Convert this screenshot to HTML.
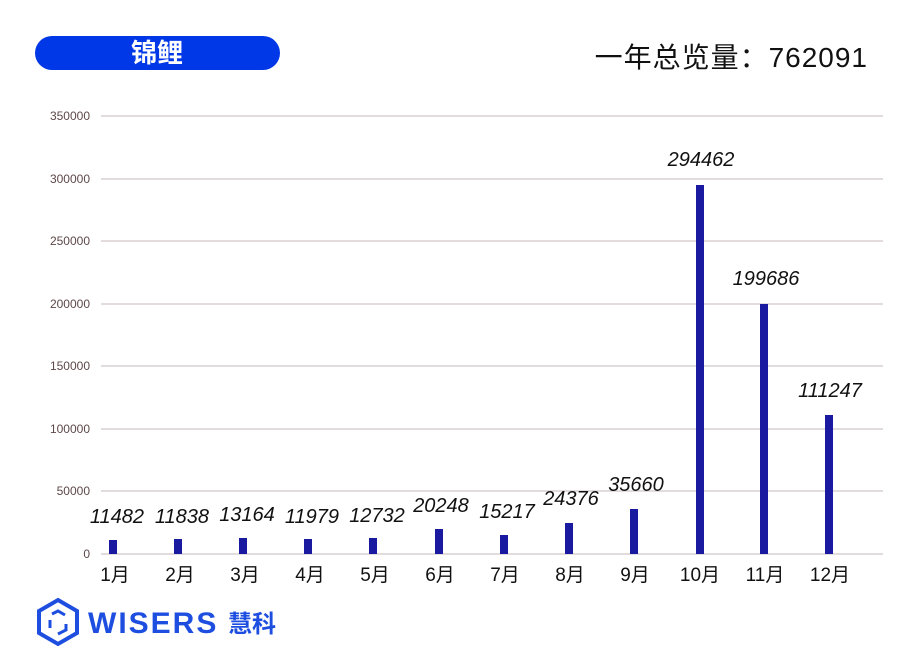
<!DOCTYPE html>
<html><head><meta charset="utf-8"><style>
html,body{margin:0;padding:0;background:#fff;width:921px;height:661px;overflow:hidden}
</style></head><body>
<svg width="921" height="661" viewBox="0 0 921 661" xmlns="http://www.w3.org/2000/svg" font-family="Liberation Sans, Noto Sans CJK SC, sans-serif">
<rect x="35" y="36" width="245" height="34" rx="17" fill="#0037e6"/>
<text x="157" y="62" text-anchor="middle" fill="#fff" font-size="26" font-weight="bold" font-family="Liberation Sans, Noto Sans CJK SC, sans-serif">锦鲤</text>
<text x="868" y="67" text-anchor="end" fill="#111" font-size="28" letter-spacing="1" font-family="Liberation Sans, Noto Sans CJK SC, sans-serif">一年总览量：762091</text>
<g stroke="#e2dcdc" stroke-width="2">
<line x1="101" x2="883" y1="116" y2="116"/><line x1="101" x2="883" y1="179" y2="179"/>
<line x1="101" x2="883" y1="241" y2="241"/><line x1="101" x2="883" y1="304" y2="304"/>
<line x1="101" x2="883" y1="366" y2="366"/><line x1="101" x2="883" y1="429" y2="429"/>
<line x1="101" x2="883" y1="491" y2="491"/><line x1="101" x2="883" y1="554" y2="554"/>
</g>
<g fill="#5e4848" font-size="12" text-anchor="end">
<text x="90" y="120">350000</text><text x="90" y="183">300000</text>
<text x="90" y="245">250000</text><text x="90" y="308">200000</text>
<text x="90" y="370">150000</text><text x="90" y="433">100000</text>
<text x="90" y="495">50000</text><text x="90" y="558">0</text>
</g>
<g fill="#1a1aa0">
<rect x="109" y="540" width="8" height="14"/>
<rect x="174" y="539" width="8" height="15"/>
<rect x="239" y="538" width="8" height="16"/>
<rect x="304" y="539" width="8" height="15"/>
<rect x="369" y="538" width="8" height="16"/>
<rect x="435" y="529" width="8" height="25"/>
<rect x="500" y="535" width="8" height="19"/>
<rect x="565" y="523" width="8" height="31"/>
<rect x="630" y="509" width="8" height="45"/>
<rect x="696" y="185" width="8" height="369"/>
<rect x="760" y="304" width="8" height="250"/>
<rect x="825" y="415" width="8" height="139"/>
</g>
<g fill="#111" font-size="20" font-style="italic" text-anchor="middle">
<text x="117" y="523">11482</text><text x="182" y="523">11838</text>
<text x="247" y="521">13164</text><text x="312" y="523">11979</text>
<text x="377" y="522">12732</text><text x="441" y="512">20248</text>
<text x="507" y="518">15217</text><text x="571" y="505">24376</text>
<text x="636" y="491">35660</text><text x="701" y="166">294462</text>
<text x="766" y="285">199686</text><text x="830" y="397">111247</text>
</g>
<g fill="#111" font-size="19" text-anchor="middle" font-family="Liberation Sans, Noto Sans CJK SC, sans-serif">
<text x="115" y="581">1月</text><text x="180" y="581">2月</text><text x="245" y="581">3月</text>
<text x="310" y="581">4月</text><text x="375" y="581">5月</text><text x="440" y="581">6月</text>
<text x="505" y="581">7月</text><text x="570" y="581">8月</text><text x="635" y="581">9月</text>
<text x="700" y="581">10月</text><text x="765" y="581">11月</text><text x="830" y="581">12月</text>
</g>
<g fill="none" stroke="#1d4ee0" stroke-width="4">
<polygon points="58,600 77,611 77,633 58,644 39,633 39,611"/>
<polyline points="52,614 58,611 65,615" stroke-width="3"/>
<polyline points="50,620 50,628" stroke-width="3"/>
<polyline points="66,624 66,630 58,634" stroke-width="3"/>
</g>
<text x="88" y="633" fill="#1d4ee0" font-size="30" font-weight="bold" letter-spacing="2">WISERS</text>
<text x="228" y="632" fill="#1d4ee0" font-size="24" font-weight="bold" font-family="Liberation Sans, Noto Sans CJK SC, sans-serif">慧科</text>
</svg>
</body></html>
